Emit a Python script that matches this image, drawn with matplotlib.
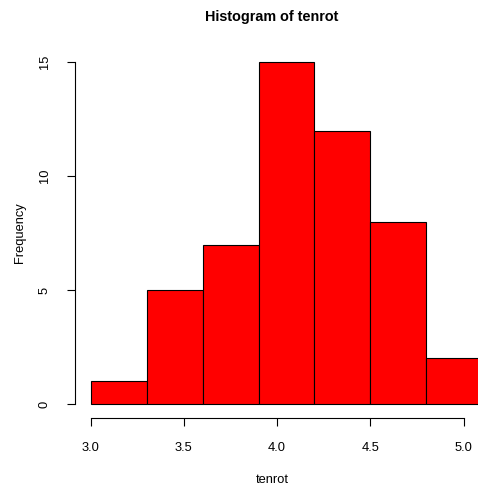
import matplotlib
matplotlib.use("Agg")
import matplotlib.pyplot as plt

# Histogram bins and counts
bin_edges = [3.0, 3.3, 3.6, 3.9, 4.2, 4.5, 4.8, 5.1]
counts = [1, 5, 7, 15, 12, 8, 2]
x_ticks = [3.0, 3.5, 4.0, 4.5, 5.0]
x_tick_labels = ["3.0", "3.5", "4.0", "4.5", "5.0"]
y_ticks = [0, 5, 10, 15]

plt.rcParams['font.family'] = ['Liberation Sans', 'DejaVu Sans']

W, H = 478, 487
fig = plt.figure(figsize=(W / 100, H / 100), dpi=100)
# plot region in pixels (R style, right side runs past the picture edge)
left, right, top, bottom = 75, 498, 48.6, 417.7
ax = fig.add_axes([left / W, 1 - bottom / H, (right - left) / W, (bottom - top) / H])

widths = [bin_edges[i + 1] - bin_edges[i] for i in range(len(counts))]
ax.bar(bin_edges[:-1], counts, width=widths, align='edge',
       color='#ff0000', edgecolor='black', linewidth=0.8)

ax.set_xlim(2.916, 5.184)
ax.set_ylim(-0.6, 15.6)

for s in ['top', 'right']:
    ax.spines[s].set_visible(False)
ax.spines['bottom'].set_bounds(3.0, 5.0)
ax.spines['left'].set_bounds(0, 15)
for s in ['bottom', 'left']:
    ax.spines[s].set_linewidth(0.8)

ax.set_xticks(x_ticks)
ax.set_xticklabels(x_tick_labels)
ax.set_yticks(y_ticks)
ax.tick_params(axis='both', length=5.8, width=0.8, labelsize=9.3)
ax.tick_params(axis='x', pad=11.5)
ax.tick_params(axis='y', pad=11.5, labelrotation=90)
for lab in ax.get_yticklabels():
    lab.set_va('center')

fig.text(272 / W, 1 - 17 / H, "Histogram of tenrot", ha='center', va='center',
         fontsize=10.4, fontweight='bold')
fig.text(272 / W, 1 - 480 / H, "tenrot", ha='center', va='center', fontsize=9.3)
fig.text(20 / W, 1 - 233 / H, "Frequency", ha='center', va='center',
         fontsize=9.3, rotation=90)

fig.savefig("out.png", dpi=100)
